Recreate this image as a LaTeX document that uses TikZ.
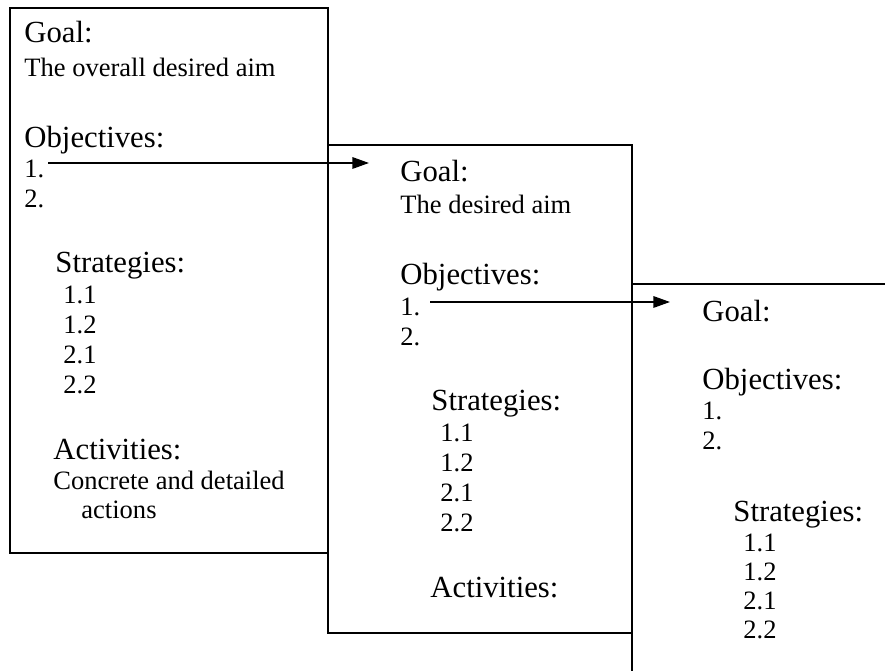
\documentclass[tikz,border=0pt]{standalone}
\usepackage{fontspec}
\setmainfont{Liberation Serif}
\usetikzlibrary{arrows.meta}
\begin{document}
\begin{tikzpicture}[x=0.4525pt,y=-0.4525pt,
  big/.style={anchor=base west,inner sep=0pt,font=\fontsize{13.9}{16}\selectfont},
  small/.style={anchor=base west,inner sep=0pt,font=\fontsize{12}{14}\selectfont},
  frame/.style={draw=black,line width=0.9pt},
  link/.style={line width=0.7pt,-{Triangle[length=7.5pt,width=5.2pt]}}]
\useasboundingbox (0,0) rectangle (885,671);
% the three overlapping planning sheets
\begin{scope}
  \clip (0,0) rectangle (885,671);
  \draw[frame] (10,8) rectangle (328,553);
  \draw[frame] (328,145) rectangle (632,633);
  \draw[frame] (632,284) rectangle (900,700);
\end{scope}

% first sheet
\node[big]   (g1)  at (24,43)  {Goal:};
\node[small] (a1)  at (24,77)  {The overall desired aim};
\node[big]   (o1)  at (24,148) {Objectives:};
\node[small] (o1a) at (24,178) {1.};
\node[small] (o1b) at (24,208) {2.};
\node[big]   (s1)  at (55,273) {Strategies:};
\node[small] (s1a) at (63,304) {1.1};
\node[small] (s1b) at (63,334) {1.2};
\node[small] (s1c) at (63,364) {2.1};
\node[small] (s1d) at (63,394) {2.2};
\node[big]   (c1)  at (53,460) {Activities:};
\node[small] (d1)  at (53,490) {Concrete and detailed};
\node[small] (d1b) at (81,519) {actions};

% second sheet
\node[big]   (g2)  at (400,182) {Goal:};
\node[small] (a2)  at (400,214) {The desired aim};
\node[big]   (o2)  at (400,285) {Objectives:};
\node[small] (o2a) at (400,316) {1.};
\node[small] (o2b) at (400,346) {2.};
\node[big]   (s2)  at (431,411) {Strategies:};
\node[small] (s2a) at (440,442) {1.1};
\node[small] (s2b) at (440,472) {1.2};
\node[small] (s2c) at (440,502) {2.1};
\node[small] (s2d) at (440,532) {2.2};
\node[big]   (c2)  at (430,598) {Activities:};

% third sheet
\node[big]   (g3)  at (702,322) {Goal:};
\node[big]   (o3)  at (702,390) {Objectives:};
\node[small] (o3a) at (702,420) {1.};
\node[small] (o3b) at (702,450) {2.};
\node[big]   (s3)  at (733,522) {Strategies:};
\node[small] (s3a) at (743,552) {1.1};
\node[small] (s3b) at (743,581) {1.2};
\node[small] (s3c) at (743,610) {2.1};
\node[small] (s3d) at (743,639) {2.2};

% each objective becomes the goal of the next sheet
\coordinate (p1) at (48,163);
\coordinate (q1) at (369,163);
\coordinate (p2) at (430,302);
\coordinate (q2) at (670,302);
\draw[link] (p1) -- (q1);
\draw[link] (p2) -- (q2);
\end{tikzpicture}
\end{document}
